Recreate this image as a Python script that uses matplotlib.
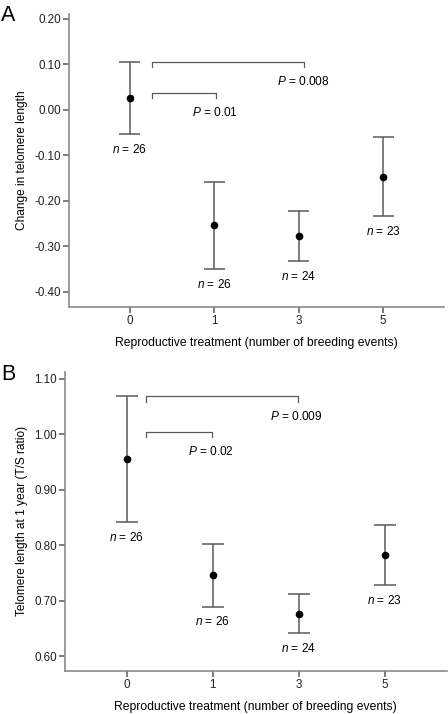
import matplotlib
matplotlib.use("Agg")
import matplotlib.pyplot as plt

plt.rcParams['font.family'] = ['Liberation Sans', 'DejaVu Sans']
plt.rcParams['mathtext.fontset'] = 'custom'
plt.rcParams['mathtext.it'] = 'Liberation Sans:italic'
plt.rcParams['mathtext.rm'] = 'Liberation Sans'

categories = ["0", "1", "3", "5"]
n_labels = ["26", "26", "24", "23"]

# Panel A: change in telomere length
a_mean = [0.027, -0.254, -0.277, -0.147]
a_upper = [0.106, -0.158, -0.222, -0.060]
a_lower = [-0.054, -0.350, -0.333, -0.233]
a_yticks = [0.20, 0.10, 0.00, -0.10, -0.20, -0.30, -0.40]
a_brackets = [(0.26, 1.025, 0.038, "0.01"), (0.26, 2.066, 0.106, "0.008")]

# Panel B: telomere length at 1 year
b_mean = [0.955, 0.747, 0.676, 0.782]
b_upper = [1.069, 0.803, 0.711, 0.837]
b_lower = [0.842, 0.689, 0.641, 0.728]
b_yticks = [1.10, 1.00, 0.90, 0.80, 0.70, 0.60]
b_brackets = [(0.22, 0.99, 1.005, "0.02"), (0.22, 1.99, 1.069, "0.009")]

W, H = 448, 714
fig = plt.figure(figsize=(W / 100, H / 100), dpi=100)

SPINE = '#8a8a8a'
BAR = '#5a5a5a'
FS = 8.4


def panel(rect, mean, upper, lower, yticks, ylim, brackets, ylabel, letter, letter_pos, ylabel_x, tick_h):
    ax = fig.add_axes(rect)
    x = list(range(len(categories)))
    for i in x:
        ax.plot([i, i], [lower[i], upper[i]], color=BAR, lw=1.1, solid_capstyle='butt', zorder=2)
        for yv in (lower[i], upper[i]):
            ax.plot([i - 0.125, i + 0.125], [yv, yv], color=BAR, lw=1.1, solid_capstyle='butt', zorder=2)
    ax.plot(x, mean, 'o', color='black', ms=4.5, zorder=3)
    for i in x:
        ax.annotate("$n$ = " + n_labels[i], (i, lower[i]), xytext=(0, -11), textcoords='offset points',
                    ha='center', va='center', fontsize=FS + 0.2)
    for x0, x1, yb, p in brackets:
        ax.plot([x0, x0, x1, x1], [yb - tick_h, yb, yb, yb - tick_h], color=BAR, lw=0.9, zorder=2)
        ax.annotate("$P$ = " + p, (x1, yb), xytext=(-1, -14.5), textcoords='offset points',
                    ha='center', va='center', fontsize=FS + 0.2)
    ax.set_xlim(-0.72, 3.72)
    ax.set_ylim(*ylim)
    ax.set_xticks(x)
    ax.set_xticklabels(categories)
    ax.set_yticks(yticks)
    ax.set_yticklabels([f"{v:.2f}" for v in yticks])
    for s in ('top', 'right'):
        ax.spines[s].set_visible(False)
    for s in ('left', 'bottom'):
        ax.spines[s].set_color(SPINE)
        ax.spines[s].set_linewidth(1.2)
    ax.tick_params(axis='both', direction='out', length=4.5, width=1.1, color=BAR,
                   labelsize=FS, labelcolor='#222222', pad=1.5)
    ax.set_xlabel("Reproductive treatment (number of breeding events)", fontsize=FS + 0.3, labelpad=7)
    ax.set_ylabel(ylabel, fontsize=FS + 0.2)
    ax.yaxis.set_label_coords(ylabel_x, 0.5)
    fig.text(letter_pos[0], letter_pos[1], letter, fontsize=15.5, ha='left', va='top')
    return ax


panel([69 / W, 1 - 306.7 / H, 375 / W, 292.7 / H], a_mean, a_upper, a_lower, a_yticks,
      (-0.433, 0.211), a_brackets, "Change in telomere length", "A", (1 / W, 1 - 5 / H),
      (28 - 69) / 375, 0.011)

panel([65 / W, 1 - 670.7 / H, 381.7 / W, 299 / H], b_mean, b_upper, b_lower, b_yticks,
      (0.5735, 1.113), b_brackets, "Telomere length at 1 year (T/S ratio)", "B", (1 / W, 1 - 364 / H),
      (28 - 65) / 381.7, 0.010)

fig.savefig("out.png", dpi=100)
